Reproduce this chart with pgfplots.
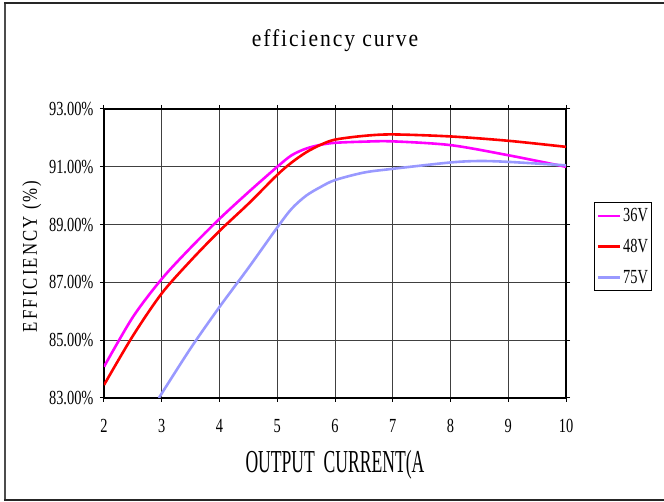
\documentclass[border=0pt]{standalone}
\usepackage{fontspec}
\setmainfont[FakeStretch=0.72]{Liberation Serif}
\newfontfamily\titlefont[FakeStretch=0.9,LetterSpace=8]{Liberation Serif}
\newfontfamily\xlabfont[FakeStretch=0.55]{Liberation Serif}
\newfontfamily\ylabfont[FakeStretch=0.8,LetterSpace=10]{Liberation Serif}
\usepackage{pgfplots}
\pgfplotsset{compat=1.18}
\definecolor{cmag}{HTML}{FF00FF}
\definecolor{cred}{HTML}{FF0000}
\definecolor{cblu}{HTML}{9999FF}
\begin{document}
\begin{tikzpicture}
\useasboundingbox (-104pt,-104pt) rectangle (560pt,398pt);
\draw[line width=1.2pt, black!70] (-99pt,-102pt) -- (-99pt,395pt);
\draw[line width=1.8pt, black!85] (-100pt,395pt) -- (560pt,395pt);
\draw[line width=1.8pt, black!85] (-100pt,-102pt) -- (560pt,-102pt);
\begin{axis}[
  at={(0,0)}, anchor=south west,
  scale only axis, width=462pt, height=289pt,
  xmin=2, xmax=10, ymin=83, ymax=93,
  xtick={2,...,10}, ytick={83,85,...,93},
  grid=major, grid style={black!75, line width=0.9pt},
  axis line style={line width=1.5pt},
  tick style={black, line width=1pt}, tick align=outside, major tick length=4pt,
  /pgf/number format/assume math mode=true,
  ticklabel style={font=\fontsize{20}{22}\selectfont},
  yticklabel={\pgfmathprintnumber[fixed,fixed zerofill,precision=2]{\tick}\%},
  yticklabel style={xshift=-3pt},
  xticklabel style={yshift=-14pt},
  title={\titlefont\fontsize{24}{26}\selectfont efficiency curve},
  title style={at={(axis description cs:0.5,1)}, anchor=center, yshift=62pt},
  xlabel={\xlabfont\fontsize{32}{34}\selectfont OUTPUT\ \ CURRENT(A},
  xlabel style={at={(axis description cs:0.5,0)}, anchor=center, yshift=-67pt},
  ylabel={\ylabfont\fontsize{21}{24}\selectfont EFFICIENCY (\%)},
  ylabel style={at={(axis description cs:-0.156,0.49)}, anchor=center},
  legend style={at={(axis description cs:1,0.524)}, anchor=west, xshift=28pt,
    draw=black, line width=1pt, font=\fontsize{20}{22}\selectfont,
    inner xsep=2pt, inner ysep=4pt, row sep=12pt, cells={anchor=west}},
  legend image code/.code={\draw[#1] (0pt,0pt) -- (22pt,0pt);},
  legend cell align=left,
]
\addplot[cmag, line width=2.6pt, smooth] table {
2.0 84.08
2.5 85.8
3.0 87.12
3.5 88.2
4.0 89.2
4.5 90.12
5.0 91.0
5.25 91.4
5.5 91.63
5.75 91.76
6.0 91.83
6.5 91.87
7.0 91.88
8.0 91.75
9.0 91.4
10 91.0
};
\addlegendentry{36V}
\addplot[cred, line width=2.6pt, smooth] table {
2.0 83.45
2.5 85.15
3.0 86.62
3.5 87.75
4.0 88.78
4.5 89.72
5.0 90.72
5.25 91.15
5.5 91.5
5.75 91.76
6.0 91.94
6.5 92.07
7.0 92.12
8.0 92.05
9.0 91.9
10 91.69
};
\addlegendentry{48V}
\addplot[cblu, line width=2.6pt, smooth] table {
2.95 83.0
3.5 84.72
4.0 86.15
4.5 87.5
5.0 88.9
5.25 89.55
5.5 90.0
5.75 90.3
6.0 90.54
6.5 90.8
7.0 90.93
8.0 91.15
8.5 91.2
9.0 91.17
10 91.05
};
\addlegendentry{75V}
\end{axis}
\end{tikzpicture}
\end{document}
